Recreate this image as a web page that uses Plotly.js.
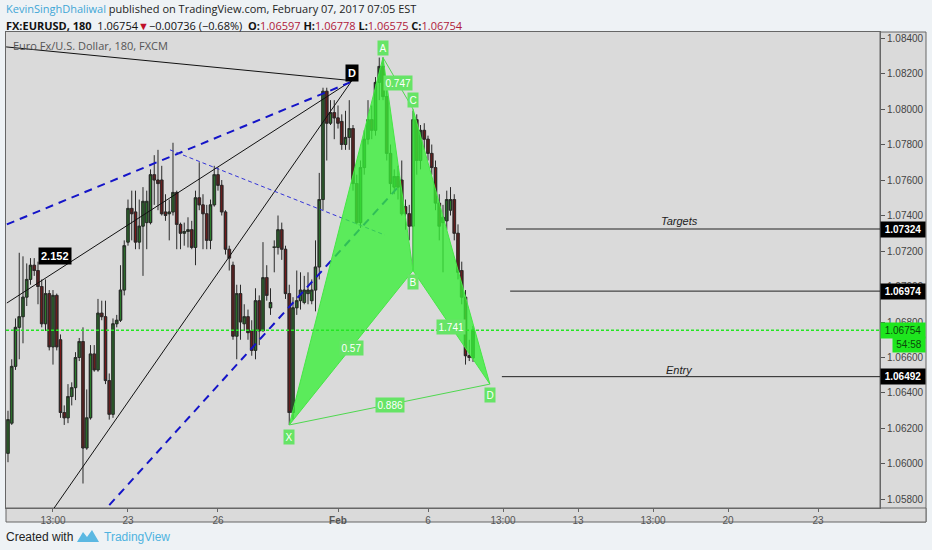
<!DOCTYPE html>
<html>
<head>
<meta charset="utf-8">
<script src="https://cdn.plot.ly/plotly-3.0.1.min.js"></script>
<style>
  html, body { margin: 0; padding: 0; background: #eef2f5; }
  #chart { width: 932px; height: 550px; }
</style>
</head>
<body>
<div id="chart"></div>
<script>
// EURUSD 180 min bars, bar 0 = first bar of Feb 1
var firstBar = -88;

var open = [1.0606,1.0623,1.0655,1.0677,1.0683,1.0694,1.0704,1.0712,1.0709,1.0700,
  1.0679,1.0696,1.0666,1.0695,1.0670,1.0629,1.0626,1.0638,1.0643,1.0660,
  1.0669,1.0609,1.0626,1.0662,1.0653,1.0685,1.0683,1.0647,1.0628,1.0679,
  1.0681,1.0698,1.0725,1.0744,1.0742,1.0725,1.0734,1.0736,1.0736,1.0763,
  1.0760,1.0760,1.0742,1.0741,1.0742,1.0753,1.0735,1.0730,1.0731,1.0732,
  1.0722,1.0750,1.0746,1.0741,1.0726,1.0746,1.0763,1.0757,1.0742,1.0721,
  1.0712,1.0672,1.0696,1.0679,1.0683,1.0675,1.0664,1.0692,1.0675,1.0705,
  1.0688,1.0722,1.0722,1.0732,1.0721,1.0696,1.0629,1.0688,1.0692,1.0691,
  1.0696,1.0692,1.0698,1.0711,1.0749,1.0810,1.0792,1.0798,1.0795,1.0793,
  1.0780,1.0784,1.0789,1.0758,1.0736,1.0767,1.0783,1.0794,1.0788,1.0815,
  1.0824,1.0807,1.0775,1.0756,1.0762,1.0760,1.0745,1.0741,1.0734,1.0794,
  1.0771,1.0788,1.0783,1.0775,1.0767,1.0747,1.0736,1.0737,1.0743,1.0749,
  1.0730,1.0709,1.0694,1.0661,1.06597];
var high = [1.0630,1.0659,1.0682,1.0719,1.0717,1.0713,1.0716,1.0716,1.0714,1.0704,
  1.0704,1.0698,1.0698,1.0696,1.0673,1.0633,1.0645,1.0646,1.0663,1.0671,
  1.0677,1.0642,1.0667,1.0667,1.0693,1.0692,1.0692,1.0651,1.0682,1.0684,
  1.0712,1.0726,1.0749,1.0754,1.0754,1.0749,1.0756,1.0754,1.0766,1.0774,
  1.0777,1.0768,1.0752,1.0749,1.0781,1.0754,1.0736,1.0736,1.0739,1.0737,
  1.0754,1.0770,1.0752,1.0746,1.0749,1.0768,1.0767,1.0760,1.0743,1.0723,
  1.0714,1.0701,1.0701,1.0690,1.0687,1.0681,1.0699,1.0695,1.0725,1.0712,
  1.0699,1.0726,1.0740,1.0736,1.0723,1.0701,1.0694,1.0709,1.0708,1.0706,
  1.0708,1.0704,1.0726,1.0764,1.0812,1.0812,1.0805,1.0805,1.0802,1.0797,
  1.0799,1.0805,1.0791,1.0763,1.0771,1.0788,1.0805,1.0802,1.0818,1.0829,
  1.0829,1.0811,1.0780,1.0766,1.0768,1.0771,1.0749,1.0746,1.0799,1.0797,
  1.0791,1.0792,1.0785,1.0780,1.0771,1.0752,1.0746,1.0754,1.0756,1.0752,
  1.0735,1.0714,1.0698,1.0670,1.06778];
var low = [1.0601,1.0622,1.0653,1.0659,1.0668,1.0689,1.0701,1.0706,1.0690,1.0677,
  1.0675,1.0664,1.0656,1.0664,1.0626,1.0622,1.0623,1.0633,1.0636,1.0658,
  1.0589,1.0608,1.0625,1.0652,1.0652,1.0681,1.0645,1.0625,1.0626,1.0677,
  1.0680,1.0695,1.0723,1.0726,1.0721,1.0721,1.0706,1.0721,1.0735,1.0746,
  1.0743,1.0740,1.0737,1.0726,1.0740,1.0721,1.0721,1.0723,1.0722,1.0721,
  1.0712,1.0743,1.0721,1.0721,1.0721,1.0745,1.0754,1.0740,1.0718,1.0709,
  1.0670,1.0659,1.0670,1.0675,1.0670,1.0661,1.0659,1.0667,1.0675,1.0692,
  1.0684,1.0708,1.0718,1.0715,1.0693,1.0622,1.0625,1.0684,1.0687,1.0690,
  1.0690,1.0690,1.0686,1.0704,1.0743,1.0771,1.0791,1.0783,1.0789,1.0777,
  1.0777,1.0777,1.0754,1.0735,1.0733,1.0763,1.0780,1.0783,1.0785,1.0805,
  1.0805,1.0771,1.0752,1.0752,1.0749,1.0740,1.0732,1.0726,1.0709,1.0763,
  1.0766,1.0777,1.0771,1.0763,1.0743,1.0726,1.0708,1.0732,1.0740,1.0726,
  1.0704,1.0690,1.0656,1.0658,1.06575];
var close = [1.0625,1.0655,1.0677,1.0683,1.0694,1.0704,1.0712,1.0709,1.0700,1.0679,
  1.0696,1.0666,1.0695,1.0666,1.0629,1.0626,1.0638,1.0643,1.0660,1.0669,
  1.0609,1.0626,1.0662,1.0653,1.0685,1.0683,1.0647,1.0628,1.0679,1.0681,
  1.0698,1.0723,1.0744,1.0741,1.0725,1.0734,1.0748,1.0748,1.0763,1.0760,
  1.0758,1.0741,1.0740,1.0742,1.0753,1.0735,1.0730,1.0731,1.0732,1.0722,
  1.0750,1.0746,1.0741,1.0726,1.0746,1.0763,1.0757,1.0742,1.0721,1.0716,
  1.0672,1.0696,1.0680,1.0683,1.0674,1.0664,1.0692,1.0675,1.0705,1.0695,
  1.0691,1.0722,1.0732,1.0721,1.0696,1.0629,1.0688,1.0692,1.0698,1.0698,
  1.0698,1.0698,1.0711,1.0749,1.0810,1.0792,1.0798,1.0795,1.0792,1.0780,
  1.0784,1.0789,1.0758,1.0736,1.0767,1.0783,1.0794,1.0788,1.0815,1.0824,
  1.0807,1.0775,1.0758,1.0762,1.0756,1.0741,1.0741,1.0734,1.0794,1.0771,
  1.0788,1.0783,1.0775,1.0767,1.0747,1.0734,1.0739,1.0749,1.0749,1.0730,
  1.0708,1.0694,1.0661,1.0660,1.06754];

var tickBars = [-76, -56, -32, 0, 24, 44, 64, 84, 104, 128];
var tickLabels = ['13:00', '23', '26', '<b>Feb</b>', '6', '13:00', '13', '13:00', '20', '23'];
var priceTicks = [1.058, 1.060, 1.062, 1.064, 1.066, 1.068, 1.070, 1.072, 1.074, 1.076, 1.078, 1.080, 1.082, 1.084];

// XABCD pattern
var patNames = ['X', 'A', 'B', 'C', 'D'];
var patBars = [-13, 12, 20, 20, 40.5];
var patPrices = [1.0622, 1.0829, 1.0709, 1.0800, 1.0645];
var ratioXB = '0.57', ratioAC = '0.747', ratioBD = '1.741', ratioXD = '0.886';

// black fan drawn into point D (black)
var fanApexBar = 3.7, fanApexPrice = 1.0816;
var fanStartBars = [-88.5, -88.3, -77.9];
var fanStartPrices = [1.0835, 1.06907, 1.05685];
var fanRatio = '2.152', fanRatioBar = -75.5, fanRatioPrice = 1.0717;

// blue channel (thick) and thin dashed line
var chanUpBars = [-88.3, 3.2], chanUpPrices = [1.0735, 1.0815];
var chanLowBars = [-63.5, 16], chanLowPrices = [1.0571, 1.0756];
var thinBars = [-44.8, 12.5], thinPrices = [1.0777, 1.0729];

// horizontal levels
var targetPrices = [1.07324, 1.06974];
var targetStartBars = [44.8, 45.9];
var entryPrice = 1.06492, entryStartBar = 43.7;
var levelEndBar = 146;
var lastPrice = 1.06754;
var countdown = '54:58';

var bars = open.map(function (v, i) { return firstBar + i; });
var bodyBase = open.map(function (o, i) { return Math.min(o, close[i]); });
var bodyLen = open.map(function (o, i) { return Math.max(Math.abs(close[i] - o), 0.00004); });
var bodyCol = open.map(function (o, i) { return close[i] >= o ? '#2c8c2c' : '#851818'; });

// pixel -> paper helpers for the frame
var PL = 6, PR = 880, PT = 32, PB = 508;
function px(x) { return (x - PL) / (PR - PL); }
function py(y) { return (PB - y) / (PB - PT); }

var traces = [];
// wicks
traces.push({
  type: 'candlestick', x: bars, open: open, high: high, low: low, close: close,
  increasing: { line: { color: '#2a2a2a', width: 1 }, fillcolor: '#2c8c2c' },
  decreasing: { line: { color: '#2a2a2a', width: 1 }, fillcolor: '#851818' },
  whiskerwidth: 0, hoverinfo: 'skip', showlegend: false
});
// bodies
traces.push({
  type: 'bar', x: bars, y: bodyLen, base: bodyBase, width: 0.78, hoverinfo: 'skip', showlegend: false,
  marker: { color: bodyCol, line: { color: '#1a1a1a', width: 0.6 } }
});

function line(xs, ys, color, width, dash) {
  return { type: 'scatter', mode: 'lines', x: xs, y: ys, hoverinfo: 'skip', showlegend: false,
    line: { color: color, width: width, dash: dash || 'solid' } };
}

for (var i = 0; i < fanStartBars.length; i++) {
  traces.push(line([fanStartBars[i], fanApexBar], [fanStartPrices[i], fanApexPrice], '#111', 1));
}
traces.push(line(chanUpBars, chanUpPrices, '#1414c8', 2, '8px,6px'));
traces.push(line(chanLowBars, chanLowPrices, '#1414c8', 2, '8px,6px'));
traces.push(line(thinBars, thinPrices, '#3434d8', 1, '4px,3px'));

// pattern
var X = 0, A = 1, B = 2, C = 3, D = 4;
function tri(a, b, c) {
  return { type: 'scatter', mode: 'lines', fill: 'toself', hoverinfo: 'skip', showlegend: false,
    x: [patBars[a], patBars[b], patBars[c], patBars[a]],
    y: [patPrices[a], patPrices[b], patPrices[c], patPrices[a]],
    fillcolor: 'rgba(55,240,55,0.78)', line: { color: 'rgba(70,230,70,1)', width: 1 } };
}
traces.push(tri(X, A, B));
traces.push(tri(B, C, D));
traces.push(line([patBars[X], patBars[D]], [patPrices[X], patPrices[D]], '#4fd84f', 1));
traces.push(line([patBars[A], patBars[C]], [patPrices[A], patPrices[C]], '#4fd84f', 1));

for (var t = 0; t < targetPrices.length; t++) {
  traces.push(line([targetStartBars[t], levelEndBar], [targetPrices[t], targetPrices[t]], '#222', 1));
}
traces.push(line([entryStartBar, levelEndBar], [entryPrice, entryPrice], '#222', 1));

var annotations = [];
var greenLab = { bgcolor: '#66e466', font: { family: 'Liberation Sans', size: 10, color: '#ffffff' }, borderpad: 1.5, showarrow: false };
function lab(base, extra) { var o = {}; for (var k in base) o[k] = base[k]; for (var k2 in extra) o[k2] = extra[k2]; return o; }

var shifts = [-12, 10, -11, 9, -11];
for (var n = 0; n < patNames.length; n++) {
  annotations.push(lab(greenLab, { x: patBars[n], y: patPrices[n], text: patNames[n], yshift: shifts[n] }));
}
function mid(a, b, txt) {
  annotations.push(lab(greenLab, { x: (patBars[a] + patBars[b]) / 2, y: (patPrices[a] + patPrices[b]) / 2, text: txt }));
}
mid(X, B, ratioXB); mid(A, C, ratioAC); mid(B, D, ratioBD); mid(X, D, ratioXD);

var blackLab = { bgcolor: '#000', font: { family: 'Liberation Sans', size: 11, color: '#fff' }, borderpad: 2, showarrow: false };
annotations.push(lab(blackLab, { x: fanApexBar, y: fanApexPrice, yshift: 8, text: '<b>D</b>' }));
annotations.push(lab(blackLab, { x: fanRatioBar, y: fanRatioPrice, text: '<b>' + fanRatio + '</b>' }));

var italic = { font: { family: 'Liberation Sans', size: 11, color: '#222' }, showarrow: false };
annotations.push(lab(italic, { x: 91, y: targetPrices[0], yshift: 8, text: '<i>Targets</i>' }));
annotations.push(lab(italic, { x: 91, y: entryPrice, yshift: 7, text: '<i>Entry</i>' }));

// price tags on the right scale
var tag = { xref: 'paper', x: 1, xanchor: 'left', xshift: 0, yref: 'y', showarrow: false,
  bgcolor: '#000', font: { family: 'Liberation Sans', size: 10, color: '#fff' }, borderpad: 2, width: 40 };
targetPrices.concat([entryPrice]).forEach(function (p) {
  annotations.push(lab(tag, { y: p, text: '<b>' + p.toFixed(5) + '</b>' }));
});
annotations.push(lab(tag, { y: lastPrice, text: lastPrice.toFixed(5), bgcolor: '#1ee61e', font: { family: 'Liberation Sans', size: 10, color: '#0a4a0a' } }));
annotations.push(lab(tag, { y: lastPrice, yshift: -14, x: px(926), xanchor: 'right', width: 28, text: countdown, bgcolor: '#1ee61e', font: { family: 'Liberation Sans', size: 10, color: '#0a4a0a' } }));

// header and footer texts
var hdr = { xref: 'paper', yref: 'paper', xanchor: 'left', yanchor: 'middle', showarrow: false, align: 'left' };
annotations.push(lab(hdr, { x: px(4), y: py(9), font: { family: 'Open Sans', size: 11, color: '#222' },
  text: '<span style="color:#3ea6d6">KevinSinghDhaliwal</span> published on TradingView.com, February 07, 2017 07:05 EST' }));
var red = function (s) { return '<span style="color:#b0203a">' + s + '</span>'; };
annotations.push(lab(hdr, { x: px(4), y: py(25), font: { family: 'Open Sans', size: 11, color: '#111' },
  text: '<b>FX:EURUSD, 180</b>  1.06754<span style="color:#c0102a">▼</span>−0.00736 (−0.68%)  <b>O:</b>' + red('1.06597') +
    ' <b>H:</b>' + red('1.06778') + ' <b>L:</b>' + red('1.06575') + ' <b>C:</b>' + red('1.06754') }));
annotations.push(lab(hdr, { x: px(11), y: py(45), font: { family: 'Open Sans', size: 11, color: '#555' }, text: 'Euro Fx/U.S. Dollar, 180, FXCM' }));
annotations.push(lab(hdr, { x: px(4), y: py(537), font: { family: 'Liberation Sans Narrow, Liberation Sans', size: 12, color: '#222' }, text: 'Created with' }));
annotations.push(lab(hdr, { x: px(102), y: py(537), font: { family: 'Liberation Sans Narrow, Liberation Sans', size: 12, color: '#4fb3e0' }, text: 'TradingView' }));

var shapes = [
  { type: 'rect', xref: 'paper', yref: 'paper', x0: 1, x1: px(926), y0: py(522), y1: 1, layer: 'below',
    fillcolor: '#dadada', line: { color: '#666', width: 1 } },
  { type: 'rect', xref: 'paper', yref: 'paper', x0: 0, x1: px(926), y0: py(522), y1: 0, layer: 'below',
    fillcolor: '#dadada', line: { color: '#666', width: 1 } },
  { type: 'line', xref: 'paper', yref: 'y', x0: 0, x1: 1, y0: lastPrice, y1: lastPrice,
    line: { color: '#22e622', width: 1.5, dash: '3px,2px' } },
  { type: 'path', xref: 'paper', yref: 'paper', fillcolor: '#5bb8e2', line: { width: 0 },
    path: 'M ' + px(77) + ' ' + py(542) + ' L ' + px(83) + ' ' + py(532) + ' L ' + px(87) + ' ' + py(537) +
      ' L ' + px(92) + ' ' + py(530) + ' L ' + px(99) + ' ' + py(542) + ' Z' }
];

var layout = {
  width: 932, height: 550,
  margin: { l: PL, r: 932 - PR, t: PT, b: 550 - PB },
  paper_bgcolor: '#eef2f5', plot_bgcolor: '#dadada',
  showlegend: false, barmode: 'overlay',
  xaxis: {
    range: [-88.53, 144.53], rangeslider: { visible: false }, showgrid: false, zeroline: false,
    tickvals: tickBars, ticktext: tickLabels, ticks: 'outside', ticklen: 3, tickcolor: '#666',
    tickfont: { family: 'Liberation Sans', size: 10, color: '#555' },
    showline: true, linecolor: '#666', mirror: true
  },
  yaxis: {
    side: 'right', range: [1.05752, 1.08434], showgrid: false, zeroline: false,
    tickvals: priceTicks, tickformat: '.5f', ticks: 'outside', ticklen: 4, tickcolor: '#555',
    tickfont: { family: 'Liberation Sans', size: 10, color: '#444' },
    showline: true, linecolor: '#666', mirror: true
  },
  shapes: shapes,
  annotations: annotations
};

Plotly.newPlot('chart', traces, layout, { staticPlot: true, displayModeBar: false });
</script>
</body>
</html>
